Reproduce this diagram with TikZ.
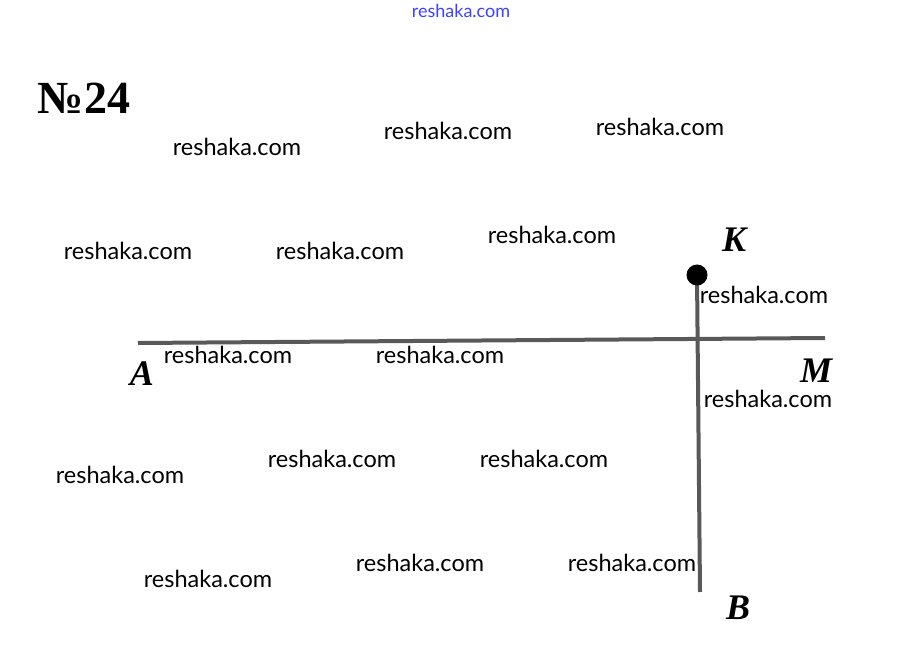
\documentclass[tikz,border=0pt]{standalone}
\usepackage{fontspec}
\setmainfont{Liberation Serif}
\newfontfamily\wmfont{Lato}
\begin{document}
\begin{tikzpicture}[x=1pt,y=-1pt,
  wm/.style={font=\wmfont\fontsize{23.5}{26}\selectfont, text=black, inner sep=0pt},
  lbl/.style={font=\fontsize{36}{40}\selectfont\bfseries\itshape, inner sep=0pt},
  seg/.style={draw=black!65, line width=4pt}]
\useasboundingbox (0,0) rectangle (921,652);
\node[font=\wmfont\fontsize{18}{20}\selectfont, text=blue!75!white, inner sep=0pt] (top) at (461,11) {reshaka.com};
\node[font=\fontsize{46}{50}\selectfont\bfseries, inner sep=0pt] (title) at (84,98) {№24};
% geometry
\coordinate (A0) at (138,343);
\coordinate (M0) at (825,338);
\coordinate (K0) at (697,275);
\coordinate (B0) at (700,592);
\draw[seg] (A0) -- (M0);
\draw[seg] (K0) -- (B0);
\fill[black] (K0) circle (10.5);
\node[lbl] (K) at (734,240) {K};
\node[lbl] (A) at (142,374) {A};
\node[lbl] (M) at (816,371) {M};
\node[lbl] (B) at (738,608) {B};
% watermarks
\node[wm] (w1) at (237,147) {reshaka.com};
\node[wm] (w2) at (448,131) {reshaka.com};
\node[wm] (w3) at (660,127) {reshaka.com};
\node[wm] (w4) at (128,251) {reshaka.com};
\node[wm] (w5) at (340,251) {reshaka.com};
\node[wm] (w6) at (552,235) {reshaka.com};
\node[wm] (w7) at (764,295) {reshaka.com};
\node[wm] (w8) at (228,355) {reshaka.com};
\node[wm] (w9) at (440,355) {reshaka.com};
\node[wm] (w10) at (768,399) {reshaka.com};
\node[wm] (w11) at (120,475) {reshaka.com};
\node[wm] (w12) at (332,459) {reshaka.com};
\node[wm] (w13) at (544,459) {reshaka.com};
\node[wm] (w14) at (208,579) {reshaka.com};
\node[wm] (w15) at (420,563) {reshaka.com};
\node[wm] (w16) at (632,563) {reshaka.com};
\end{tikzpicture}
\end{document}
